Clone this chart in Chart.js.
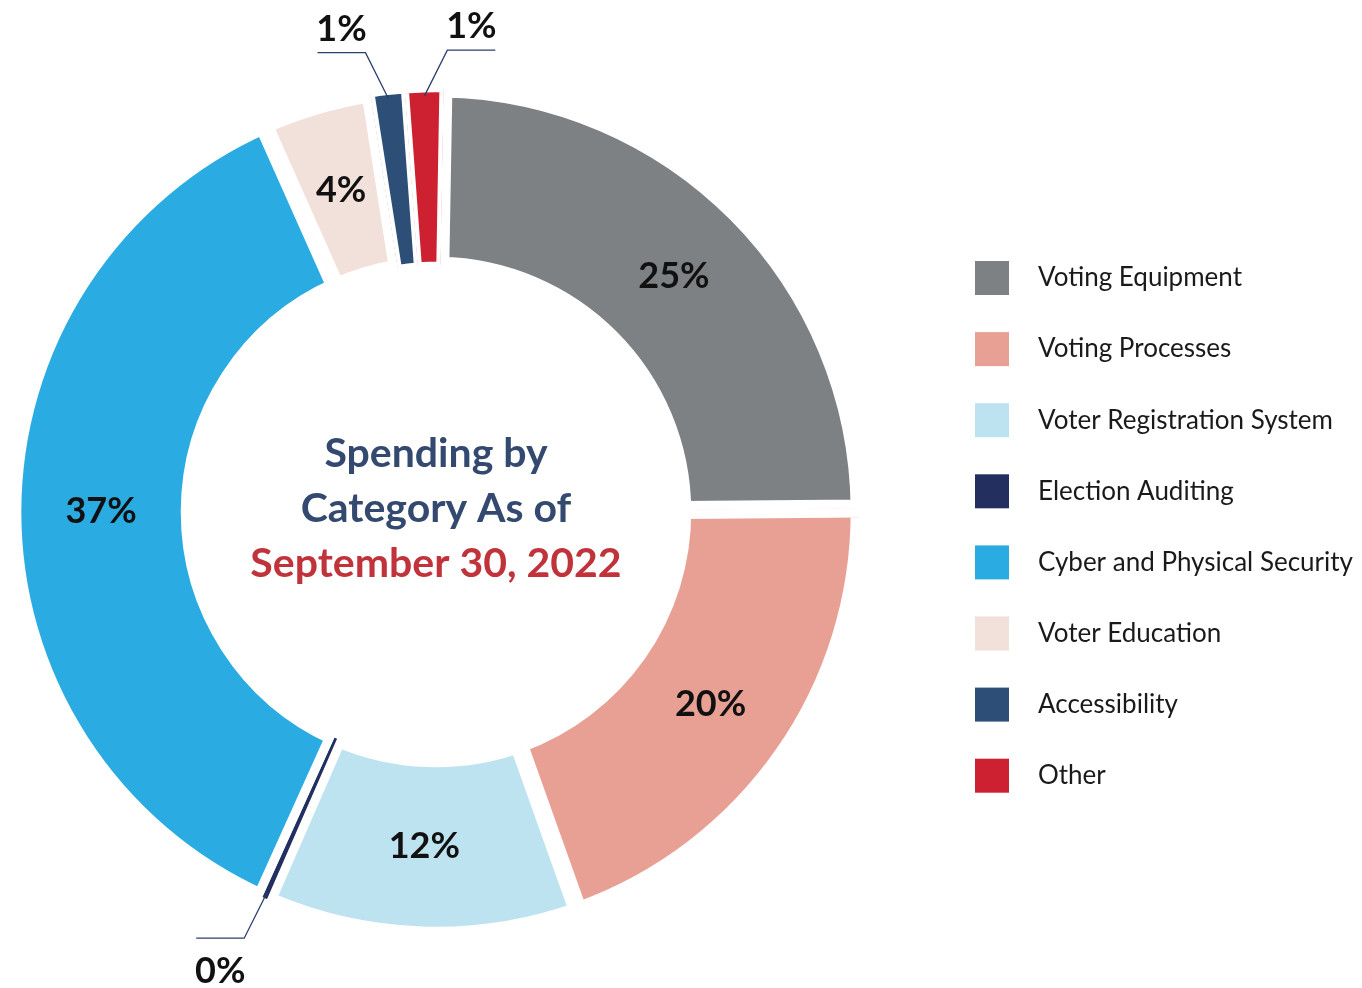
<!DOCTYPE html>
<html>
<head>
<meta charset="utf-8">
<script src="https://cdn.jsdelivr.net/npm/chart.js@4.4.0/dist/chart.umd.min.js"></script>
<style>
  html, body { margin: 0; padding: 0; background: #fff; }
  #wrap { position: relative; width: 1362px; height: 988px; }
</style>
</head>
<body>
<div id="wrap"><canvas id="spendChart"></canvas></div>
<script>
// ---- data ----
const categories = [
  'Voting Equipment',
  'Voting Processes',
  'Voter Registration System',
  'Election Auditing',
  'Cyber and Physical Security',
  'Voter Education',
  'Accessibility',
  'Other'
];
const spendingShare = [24.6, 19.7, 12.0, 0.2, 36.6, 4.2, 1.3, 1.45];
const sliceColors = ['#7e8184', '#e9a094', '#bee3f0', '#23305f', '#2aace2', '#f2e0da', '#2c4e77', '#cd2031'];
const centerTitle = ['Spending by', 'Category As of'];
const centerDate = 'September 30, 2022';

// small slices get a label outside with a leader line
const calloutSide = { 3: 'left', 6: 'left', 7: 'right' };

const FONT = 'Lato, "Open Sans", sans-serif';

const labelsPlugin = {
  id: 'sliceLabels',
  afterDatasetsDraw(chart) {
    const ctx = chart.ctx;
    const meta = chart.getDatasetMeta(0);
    const total = spendingShare.reduce((a, b) => a + b, 0);
    const a0 = meta.data[0];
    ctx.save();

    // clean up the anti-aliased fringe on the ring edges
    ctx.strokeStyle = '#fff';
    ctx.lineWidth = 3;
    [a0.outerRadius, a0.innerRadius].forEach(r => {
      ctx.beginPath();
      ctx.arc(a0.x, a0.y, r, 0, Math.PI * 2);
      ctx.stroke();
    });

    meta.data.forEach((arc, i) => {
      const txt = Math.round(spendingShare[i] / total * 100) + '%';
      ctx.font = 'bold 36px ' + FONT;
      ctx.fillStyle = '#111';
      ctx.textAlign = 'center';
      if (!(i in calloutSide)) {
        const p = arc.tooltipPosition();
        ctx.textBaseline = 'middle';
        ctx.fillText(txt, p.x, p.y);
        return;
      }
      // leader line from the visible outer edge
      const mid = (arc.startAngle + arc.endAngle) / 2;
      const r = arc.outerRadius - 8;
      const sx = arc.x + Math.cos(mid) * r;
      const sy = arc.y + Math.sin(mid) * r;
      const up = sy < arc.y ? -1 : 1;
      const dir = calloutSide[i] === 'left' ? -1 : 1;
      const ex = sx + dir * 23, ey = sy + up * 46;
      const hx = ex + dir * 48;
      ctx.strokeStyle = '#2c3e6b';
      ctx.lineWidth = 1.3;
      ctx.beginPath();
      ctx.moveTo(sx, sy);
      ctx.lineTo(ex, ey);
      ctx.lineTo(hx, ey);
      ctx.stroke();
      ctx.textBaseline = 'alphabetic';
      ctx.fillText(txt, (ex + hx) / 2, up < 0 ? ey - 12 : ey + 45);
    });

    // centre title
    ctx.textBaseline = 'alphabetic';
    ctx.font = 'bold 41px ' + FONT;
    ctx.fillStyle = '#33496f';
    ctx.fillText(centerTitle[0], a0.x, a0.y - 45);
    ctx.fillText(centerTitle[1], a0.x, a0.y + 10);
    ctx.fillStyle = '#c1333b';
    ctx.fillText(centerDate, a0.x, a0.y + 65);
    ctx.restore();
  }
};

const legendPlugin = {
  id: 'sideLegend',
  afterDraw(chart) {
    const ctx = chart.ctx;
    ctx.save();
    ctx.font = '26px ' + FONT;
    ctx.textAlign = 'left';
    ctx.textBaseline = 'middle';
    categories.forEach((name, i) => {
      const y = 278 + i * 71.1;
      ctx.fillStyle = sliceColors[i];
      ctx.fillRect(975, y - 17, 34, 34);
      ctx.fillStyle = '#1a1a1a';
      ctx.fillText(name, 1038, y);
    });
    ctx.restore();
  }
};

new Chart(document.getElementById('spendChart'), {
  type: 'doughnut',
  data: {
    labels: categories,
    datasets: [{
      data: spendingShare,
      backgroundColor: sliceColors,
      borderColor: '#ffffff',
      borderWidth: [9, 9, 9, 0, 9, 9, 4, 4],
      borderAlign: 'inner',
      borderJoinStyle: 'miter'
    }]
  },
  options: {
    responsive: true,
    maintainAspectRatio: false,
    animation: false,
    rotation: 1,
    cutout: '58%',
    layout: { padding: { left: 12, right: 502, top: 88, bottom: 52 } },
    plugins: {
      legend: { display: false },
      tooltip: { enabled: false }
    }
  },
  plugins: [labelsPlugin, legendPlugin]
});
</script>
</body>
</html>
